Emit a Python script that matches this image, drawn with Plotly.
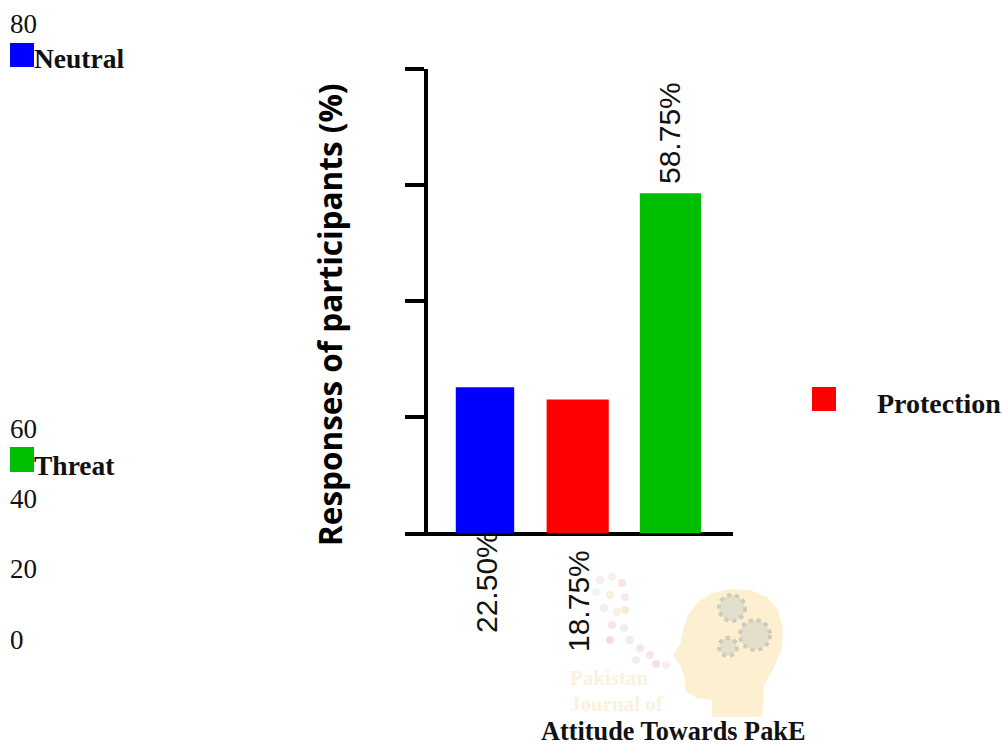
import plotly.graph_objects as go

W, H = 1003, 748
categories = ["Neutral", "Protection", "Threat"]
bar_heights = [25.2, 23.1, 58.6]
bar_labels = ["22.50%", "18.75%", "58.75%"]
bar_colors = ["#0000ff", "#ff0000", "#00bf00"]
bar_widths = [0.63, 0.67, 0.66]
y_tick_values = [0, 20, 40, 60, 80]
y_tick_labels = ["0", "20", "40", "60", "80"]

SERIF = "Liberation Serif"
def px(x): return x / W
def py(y): return 1 - y / H

fig = go.Figure(go.Bar(
    x=[0, 1, 2], y=bar_heights, width=bar_widths,
    marker=dict(color=bar_colors, line_width=0),
    customdata=categories, showlegend=False,
    hovertemplate="%{customdata}: %{y}<extra></extra>",
))

annotations = []
def text(s, x, y, size, anchor="left", family=SERIF, color="#111111", angle=0, bold=False):
    annotations.append(dict(
        text=f"<b>{s}</b>" if bold else s, x=px(x), y=py(y), xref="paper", yref="paper",
        xanchor=anchor, yanchor="middle", showarrow=False, textangle=angle,
        font=dict(family=family, size=size, color=color)))

# stray left-hand tick labels
for lab, yy in zip(y_tick_labels, [640, 569, 499, 429, 24]):
    text(lab, 8, yy, 27)
# legend
text("Neutral", 32, 59, 27.5, bold=True)
text("Threat", 32, 465, 27.5, bold=True)
text("Protection", 875, 403, 28, bold=True)
text("Attitude Towards PakE", 673, 731, 26.3, anchor="center", bold=True)
text("Responses of participants (%)", 329, 315, 31.5, anchor="center",
     family="Open Sans", color="black", angle=-90, bold=True)
# value labels
for lab, xx, yy in zip(bar_labels, [486, 578, 670], [582, 601, 133]):
    text(lab, xx, yy, 30, anchor="center", family="Liberation Sans", color="#111111", angle=-90)
# faint watermark text
text("Pakistan", 568, 678, 21, color="#faf2dc", bold=True)
text("Journal of", 568, 704, 21, color="#faf2dc", bold=True)

shapes = []
def rect(x0, y0, x1, y1, color):
    shapes.append(dict(type="rect", xref="paper", yref="paper", x0=px(x0), x1=px(x1),
                       y0=py(y0), y1=py(y1), fillcolor=color, line_width=0))
rect(10, 43, 34, 67, "#0000ff")
rect(10, 447, 34, 472, "#00bf00")
rect(812, 387, 836, 411, "#ff0000")

# watermark head
head = [(673,655),(680,645),(683,630),(688,615),(698,602),(712,593),(730,589),(750,590),(767,597),
        (778,610),(783,628),(782,648),(774,668),(764,685),(762,717),(712,717),(712,700),(697,698),
        (686,692),(684,675),(680,665)]
p = "M " + " L ".join(f"{px(a)},{py(b)}" for a, b in head) + " Z"
shapes.append(dict(type="path", path=p, xref="paper", yref="paper", fillcolor="#fdf0d0",
                   line_width=0, layer="below"))
for cx, cy, r in [(732, 608, 13), (755, 635, 15), (728, 647, 9)]:
    shapes.append(dict(type="circle", xref="paper", yref="paper",
                       x0=px(cx-r), x1=px(cx+r), y0=py(cy+r), y1=py(cy-r),
                       fillcolor="#e4dfcd", line=dict(color="#cfcabb", width=4, dash="dot"), layer="below"))
# watermark confetti
for cx, cy, c in [(600,580,"#f8ecee"),(612,577,"#f2f3ea"),(622,583,"#f8e3e5"),(596,592,"#eff6ed"),
                  (610,595,"#faf2df"),(625,597,"#f7e9ef"),(604,608,"#ecf3f0"),(617,612,"#faf1dc"),
                  (625,610,"#f8ecd6"),(612,625,"#f4e5ec"),(624,628,"#ebf0f3"),(610,640,"#f2dde6"),
                  (630,640,"#f5eaec"),(640,648,"#f3e9ed"),(650,655,"#f6e6ea"),(636,660,"#f4eded"),
                  (656,664,"#f6dfe4"),(666,665,"#f8f0ea")]:
    shapes.append(dict(type="circle", xref="paper", yref="paper", x0=px(cx-4), x1=px(cx+4),
                       y0=py(cy+4), y1=py(cy-4), fillcolor=c, line_width=0, layer="below"))

fig.update_layout(
    width=W, height=H, margin=dict(l=0, r=0, t=0, b=0),
    paper_bgcolor="white", plot_bgcolor="rgba(0,0,0,0)",
    annotations=annotations, shapes=shapes,
    xaxis=dict(domain=[px(427.5), px(733)], range=[-0.62, 2.675], showgrid=False, zeroline=False,
               showticklabels=False, ticks="", showline=True, linecolor="black", linewidth=2),
    yaxis=dict(domain=[py(533.5), py(69)], range=[0, 80], tickvals=y_tick_values, showgrid=False,
               zeroline=True, zerolinecolor="black", zerolinewidth=4,
               showticklabels=False, ticks="outside", ticklen=19, tickwidth=4,
               tickcolor="black", showline=True, linecolor="black", linewidth=4),
)
fig.write_html("out.html", config=dict(displayModeBar=False),
               post_script="document.body.style.margin='0';")
